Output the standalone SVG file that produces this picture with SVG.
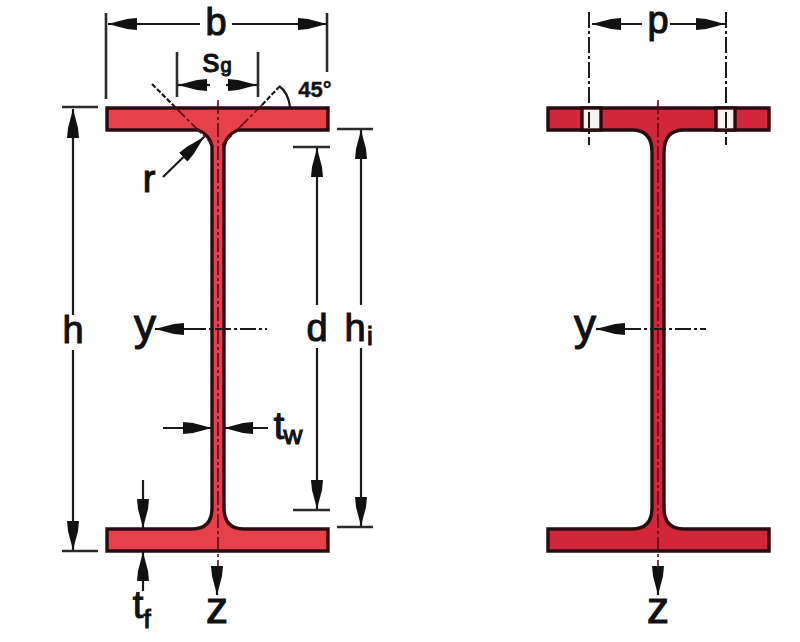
<svg xmlns="http://www.w3.org/2000/svg" width="800" height="642" viewBox="0 0 800 642">
<style>
text{font-family:"Liberation Sans",Arial,sans-serif;fill:#111;stroke:#111;stroke-width:1.1;text-anchor:middle}
.l{font-size:38px}.a{font-size:44px}.s{font-size:26px}.d{font-size:22px;font-weight:bold;stroke-width:.4}
.sec{stroke:#2a0c10;stroke-width:3.4;stroke-linejoin:miter}
.dim{fill:none;stroke:#1a1a1a;stroke-width:2.2}
.ext{fill:none;stroke:#2b2b2b;stroke-width:2.6}
.cl{fill:none;stroke:#1a1a1a;stroke-width:2;stroke-dasharray:16 3 3 3}
.cw{fill:none;stroke:#5a0a12;stroke-width:1.6;stroke-dasharray:14 3 3 3}
.arr{marker-end:url(#head)}
</style>
<defs>
<marker id="head" markerUnits="userSpaceOnUse" markerWidth="30" markerHeight="16" refX="29" refY="8" orient="auto"><path d="M0 2 L10 3 L29 8 L10 13 L0 14Z" fill="#111"/></marker>
</defs>
<rect width="800" height="642" fill="#fff"/>
<g id="section-left">
<path class="sec" fill="#e6404a" d="M107 108H328V130H238Q227 134 224 146V508Q224 529 244 529H328V551H107V529H192Q212 529 212 508V146Q209 134 198 130H107Z"/>
</g>
<g id="section-right">
<path class="sec" fill="#d2263a" d="M548 108H769V130H684Q664 130 664 152V508Q664 529 684 529H769V551H548V529H632Q652 529 652 508V152Q652 130 632 130H548Z"/>
<rect class="sec" fill="#f7f4ef" x="582" y="108" width="19" height="22"/>
<rect class="sec" fill="#f7f4ef" x="716" y="108" width="19" height="22"/>
</g>
<g id="connectors">
<path class="ext" d="M106 13V99M327 13V72M177 52V97M258 52V97M62 107H98M62 551H98M293 147H330M293 510H330M337 129H373M337 527H373"/>
<path class="dim arr" d="M200 24H108"/><path class="dim arr" d="M232 24H327"/>
<path class="dim arr" d="M210 85H178"/><path class="dim arr" d="M226 85H257"/>
<path class="dim arr" d="M163 177L204 137"/>
<path class="dim arr" d="M73 315V109"/><path class="dim arr" d="M73 350V550"/>
<path class="dim arr" d="M317 305V148"/><path class="dim arr" d="M317 348V509"/>
<path class="dim arr" d="M361 305V130"/><path class="dim arr" d="M361 348V526"/>
<path class="dim arr" d="M163 428H212"/><path class="dim arr" d="M268 428H224"/>
<path class="dim arr" d="M143 480V528"/><path class="dim arr" d="M143 591V552"/>
<path class="dim arr" d="M190 329H155"/><path class="cl" d="M190 329H267"/>
<path class="dim" stroke-dasharray="5 2" d="M152 84L175 107"/><path class="cw" stroke-width="2" d="M175 107L213 145"/>
<path class="cw" d="M222 145L262 105"/><path class="dim" stroke-dasharray="5 2" d="M262 105L279 87"/>
<path class="dim" d="M279 86Q288 92 290 107"/>
<path class="cw" d="M218 100V566"/>
<path class="dim arr" d="M217 566V595"/>
<path class="dim arr" d="M642 24H592"/><path class="dim arr" d="M670 24H725"/>
<path class="cl" d="M589 12V145"/><path class="cl" d="M726 12V145"/>
<path class="dim arr" d="M625 329H596"/><path class="cl" d="M625 329H706"/>
<path class="cw" d="M658 100V566"/>
<path class="dim arr" d="M658 566V595"/>
</g>
<g id="labels">
<text class="l" x="216" y="35">b</text>
<text class="l" x="211" y="72" style="font-size:34px">s</text><text class="s" x="226" y="72" style="font-size:20px">g</text>
<text class="d" x="315" y="97">45°</text>
<text class="l" x="149" y="192">r</text>
<text class="l" x="73" y="343">h</text>
<text class="l" x="317" y="341">d</text>
<text class="l" x="355" y="341">h</text><text class="s" x="370" y="345">i</text>
<text class="a" x="145" y="340">y</text>
<text class="l" x="279" y="439">t</text><text class="s" x="293" y="444">w</text>
<text class="l" x="138" y="618">t</text><text class="s" x="147" y="628">f</text>
<text class="a" x="217" y="623">z</text>
<text class="l" x="658" y="33">p</text>
<text class="a" x="585" y="340">y</text>
<text class="a" x="658" y="623">z</text>
</g>
</svg>
